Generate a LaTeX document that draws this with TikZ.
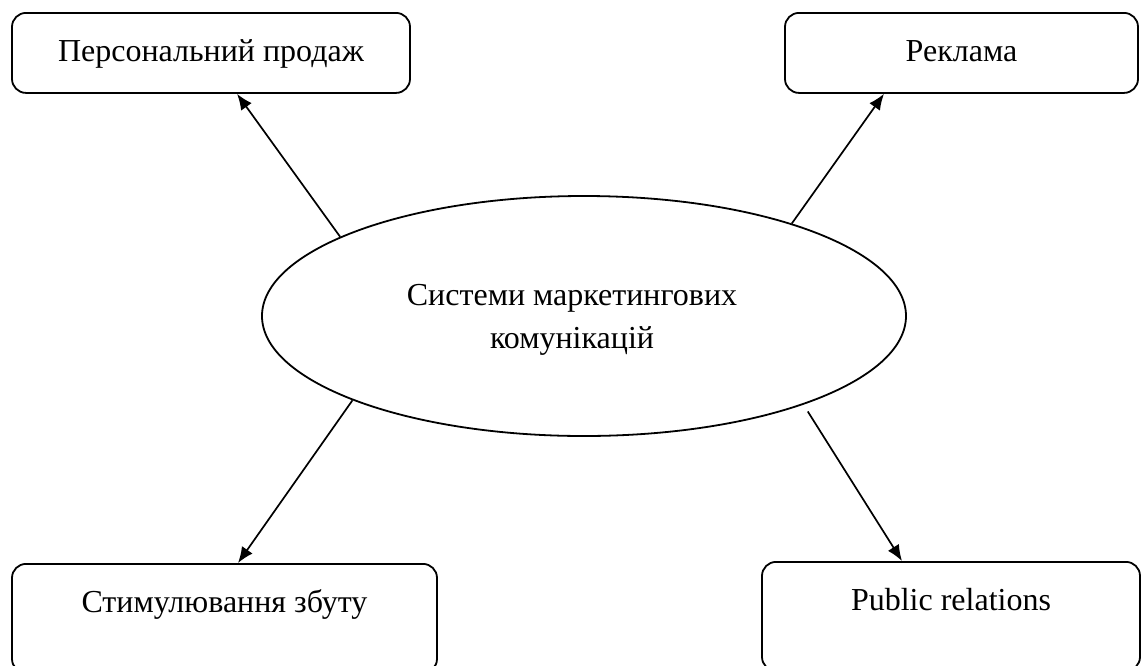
\documentclass[tikz,border=0pt]{standalone}
\usepackage{fontspec}
\setmainfont{Liberation Serif}
\usetikzlibrary{arrows.meta,shapes.geometric}

\tikzset{
  box/.style={draw, line width=0.9pt, rounded corners=7pt, inner sep=0pt,
    anchor=north, align=center, text height=24.5pt},
  pic/.style={-{Latex[length=8pt,width=6.5pt]}, line width=0.85pt}
}

\begin{document}
\begin{tikzpicture}[x=0.5pt, y=-0.5pt, font=\fontsize{16}{21.5}\selectfont]
   \clip (0,0) rectangle (1147,665);
   \node[ellipse, draw, line width=0.9pt, inner sep=0pt,
         minimum width=322pt, minimum height=120pt] (ell) at (584,316) {};
   \node[align=center] (lbl) at (572,320) {Системи маркетингових\\комунікацій};
   \node[box, minimum width=199pt, text depth=15.5pt] (pp) at (211,12) {Персональний продаж};
   \node[box, minimum width=176.5pt, text depth=15.5pt] (rk) at (961.5,12) {Реклама};
   \node[box, minimum width=212.5pt, text depth=30pt] (sz) at (224.5,563) {Стимулювання збуту};
   \node[box, minimum width=189pt, text depth=30pt] (pr) at (951,561) {Public relations};
   \draw[pic] (ell.162.3) -- ([xshift=13pt]pp.south);
   \draw[pic] (ell.24.4) -- ([xshift=-38.75pt]rk.south);
   \draw[pic] (ell.200.3) -- ([xshift=6.75pt]sz.north);
   \draw[pic, shorten <=4pt] (ell.338.5) -- ([xshift=-24.5pt]pr.north);
\end{tikzpicture}
\end{document}
